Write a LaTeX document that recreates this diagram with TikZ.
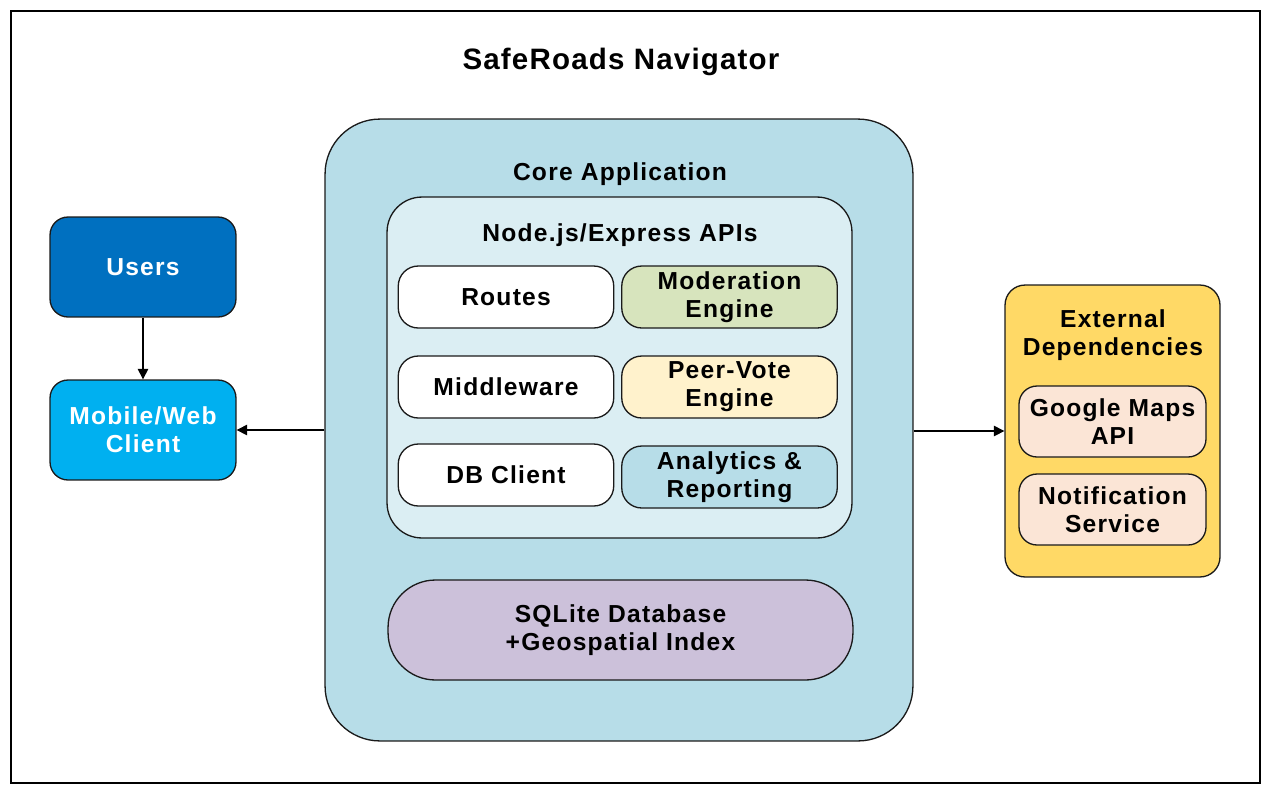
\documentclass[tikz,border=0pt]{standalone}
\usepackage{fontspec}
\newfontfamily\lblfont[LetterSpace=5]{Liberation Sans}
\newfontfamily\ttlfont[LetterSpace=4]{Liberation Sans}
\usetikzlibrary{arrows.meta}
\definecolor{cusers}{HTML}{0070C0}
\definecolor{cmobile}{HTML}{00B0F0}
\definecolor{ccore}{HTML}{B7DDE8}
\definecolor{capis}{HTML}{DBEEF3}
\definecolor{cmod}{HTML}{D7E4BD}
\definecolor{cpeer}{HTML}{FFF2CC}
\definecolor{cana}{HTML}{B7DDE8}
\definecolor{csql}{HTML}{CCC1DA}
\definecolor{cext}{HTML}{FFD966}
\definecolor{cextitem}{HTML}{FBE5D6}
\definecolor{cborder}{HTML}{1A1A1A}
\begin{document}
\begin{tikzpicture}[x=0.02cm,y=-0.02cm,
  txt/.style={font=\lblfont\bfseries\fontsize{14}{15.9}\selectfont},
  box/.style={draw=cborder,line width=0.75pt,inner sep=0pt,align=center,txt},
  lbl/.style={inner sep=0pt,align=center,txt},
  sub/.style={box,rounded corners=0.4cm,minimum width=4.31cm,minimum height=1.24cm},
  extitem/.style={box,fill=cextitem,rounded corners=0.36cm,minimum width=3.74cm,minimum height=1.42cm},
  leftbox/.style={box,text=white,rounded corners=0.36cm,minimum width=3.72cm,minimum height=2cm},
  arr/.style={draw=black,line width=0.6pt,-{Triangle[length=6pt,width=6pt]}}]
\useasboundingbox (0,0) rectangle (1271,795);
\node[draw=black,line width=0.75pt,inner sep=0pt,minimum width=24.98cm,minimum height=15.44cm] (frame) at (635.5,397) {};
\node[inner sep=0pt,font=\ttlfont\bfseries\fontsize{16.8}{20}\selectfont] (title) at (621,62) {SafeRoads Navigator};

% left
\node[leftbox,fill=cusers] (users) at (143,267) {Users};
\node[leftbox,fill=cmobile] (mobile) at (143,430) {Mobile/Web\\Client};

% core
\node[box,fill=ccore,rounded corners=1.1cm,minimum width=11.76cm,minimum height=12.44cm] (core) at (619,430) {};
\node[lbl] (corelbl) at (620,174) {Core Application};
\node[box,fill=capis,rounded corners=0.7cm,minimum width=9.3cm,minimum height=6.82cm] (apis) at (619.5,367.5) {};
\node[lbl] (apislbl) at (620,235) {Node.js/Express APIs};
\node[sub,fill=white] (routes) at (506,297) {Routes};
\node[sub,fill=cmod] (mod) at (729.5,297) {Moderation\\Engine};
\node[sub,fill=white] (mid) at (506,387) {Middleware};
\node[sub,fill=cpeer] (peer) at (729.5,387) {Peer-Vote\\Engine};
\node[sub,fill=white] (dbc) at (506,475) {DB Client};
\node[sub,fill=cana] (ana) at (729.5,477) {Analytics \&\\Reporting};
\node[box,fill=csql,rounded corners=0.95cm,minimum width=9.3cm,minimum height=2cm] (sql) at (620.5,630) {SQLite Database\\+Geospatial Index};

% external
\node[box,fill=cext,rounded corners=0.4cm,minimum width=4.3cm,minimum height=5.84cm] (ext) at (1112.5,431) {};
\node[lbl] (extlbl) at (1113,335) {External\\Dependencies};
\node[extitem] (gmaps) at (1112.5,421.5) {Google Maps\\API};
\node[extitem] (notif) at (1112.5,509.5) {Notification\\Service};

% connectors
\draw[arr] (users.south) -- (mobile.north);
\draw[arr] (core.west |- mobile.east) -- (mobile.east);
\draw[arr] (core.east |- ext.west) -- (ext.west);
\end{tikzpicture}
\end{document}
